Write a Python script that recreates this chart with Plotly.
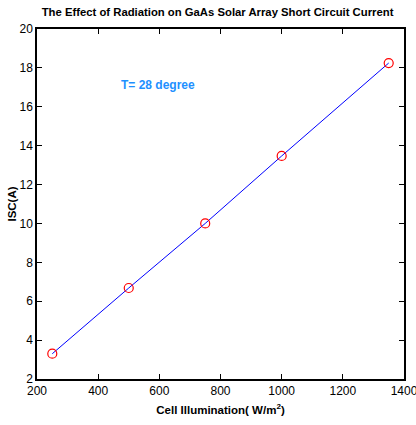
import plotly.graph_objects as go

# Short-circuit current of a GaAs array versus illumination (T = 28 °C)
illumination = [250, 500, 750, 1000, 1350]
isc = [3.3, 6.68, 10.0, 13.47, 18.25]

x_ticks = [200, 400, 600, 800, 1000, 1200, 1400]
y_ticks = [2, 4, 6, 8, 10, 12, 14, 16, 18, 20]

fig = go.Figure()
fig.add_trace(go.Scatter(
    x=illumination, y=isc, mode="lines",
    line=dict(color="#0000FF", width=1), showlegend=False,
))
fig.add_trace(go.Scatter(
    x=illumination, y=isc, mode="markers",
    marker=dict(symbol="circle-open", color="#FF0000", size=9, line=dict(width=1.2)),
    showlegend=False,
))

axis_common = dict(
    showgrid=False, zeroline=False, showline=True, linecolor="black", linewidth=1.5,
    mirror="ticks", ticks="inside", ticklen=5, tickcolor="black", automargin=False,
    ticklabeloverflow="allow",
    tickfont=dict(family="Liberation Sans", size=12, color="black"),
)

fig.update_layout(
    width=416, height=425,
    margin=dict(l=37, r=12, t=29, b=46),
    paper_bgcolor="white", plot_bgcolor="white",
    title=dict(
        text="<b>The Effect of Radiation on GaAs Solar Array Short Circuit Current</b>",
        x=0.523, xanchor="center", y=0.972, yanchor="middle",
        font=dict(family="Liberation Sans", size=11.3, color="black"),
    ),
    xaxis=dict(
        range=[200, 1400], tickvals=x_ticks, ticktext=[str(v) for v in x_ticks],
        title=dict(text="<b>Cell Illumination( W/m<sup>2</sup>)</b>", standoff=9,
                   font=dict(family="Liberation Sans", size=11.5, color="black")),
        **axis_common,
    ),
    yaxis=dict(
        range=[2, 20], tickvals=y_ticks, ticktext=[str(v) for v in y_ticks],
        title=dict(text="<b>ISC(A)</b>", standoff=0,
                   font=dict(family="Liberation Sans", size=11.5, color="black")),
        **axis_common,
    ),
    annotations=[dict(
        x=596, y=17.1, xref="x", yref="y", showarrow=False,
        text="<b>T= 28 degree</b>",
        font=dict(family="Liberation Sans", size=12, color="#1E90FF"),
    )],
)

fig.write_html("out.html")
